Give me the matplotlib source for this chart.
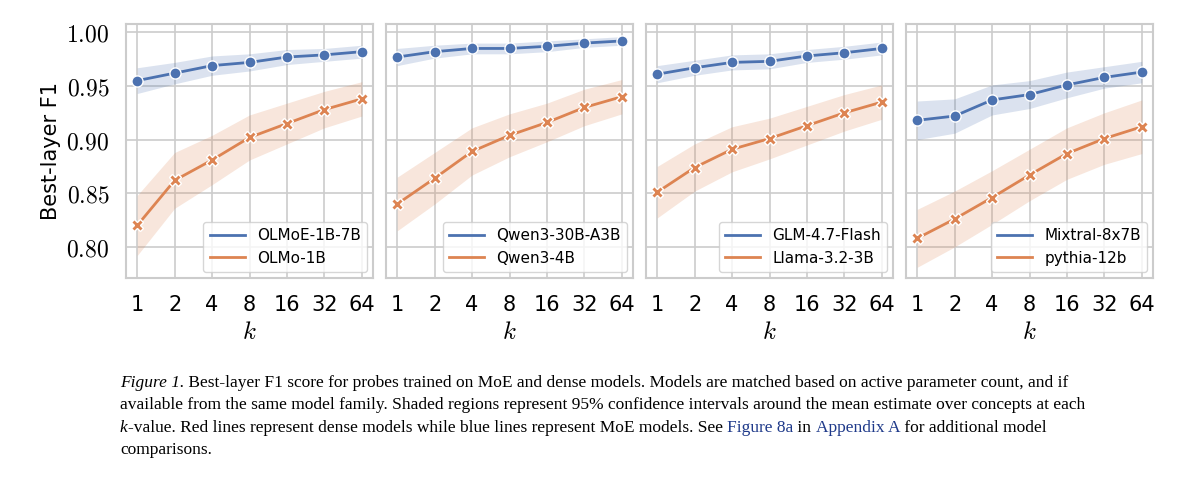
import matplotlib
matplotlib.use("Agg")
import matplotlib.pyplot as plt
from matplotlib.lines import Line2D
import numpy as np

k_labels = ["1", "2", "4", "8", "16", "32", "64"]
moe_names = ["OLMoE-1B-7B", "Qwen3-30B-A3B", "GLM-4.7-Flash", "Mixtral-8x7B"]
dense_names = ["OLMo-1B", "Qwen3-4B", "Llama-3.2-3B", "pythia-12b"]
moe_vals = [
    [0.955, 0.962, 0.969, 0.972, 0.977, 0.979, 0.982],
    [0.977, 0.982, 0.985, 0.985, 0.987, 0.990, 0.992],
    [0.961, 0.967, 0.972, 0.973, 0.978, 0.981, 0.985],
    [0.918, 0.922, 0.937, 0.942, 0.951, 0.958, 0.963],
]
moe_ci = [
    [0.012, 0.010, 0.009, 0.008, 0.007, 0.006, 0.006],
    [0.008, 0.006, 0.005, 0.005, 0.005, 0.004, 0.004],
    [0.008, 0.007, 0.007, 0.007, 0.006, 0.006, 0.006],
    [0.018, 0.016, 0.014, 0.013, 0.012, 0.010, 0.010],
]
dense_vals = [
    [0.820, 0.862, 0.881, 0.902, 0.915, 0.928, 0.938],
    [0.840, 0.864, 0.889, 0.904, 0.916, 0.930, 0.940],
    [0.851, 0.874, 0.891, 0.901, 0.913, 0.925, 0.935],
    [0.808, 0.826, 0.846, 0.867, 0.887, 0.901, 0.912],
]
dense_ci = [
    [0.028, 0.026, 0.023, 0.021, 0.019, 0.017, 0.016],
    [0.025, 0.024, 0.022, 0.020, 0.018, 0.017, 0.016],
    [0.024, 0.022, 0.021, 0.019, 0.018, 0.017, 0.016],
    [0.027, 0.026, 0.025, 0.024, 0.024, 0.024, 0.025],
]

plt.rcParams["mathtext.fontset"] = "cm"
BLUE = "#4C72B0"
ORANGE = "#DD8452"
GRIDC = "#cccccc"

fig = plt.figure(figsize=(12, 4.82), dpi=100)
W, H = 1200, 482
lefts = [126, 386, 646, 906]
pw = 247
x = np.arange(len(k_labels))
for i, l in enumerate(lefts):
    ax = fig.add_axes([l / W, 1 - 278 / H, pw / W, (278 - 24) / H])
    mv, mc = np.array(moe_vals[i]), np.array(moe_ci[i])
    dv, dc = np.array(dense_vals[i]), np.array(dense_ci[i])
    ax.fill_between(x, mv - mc, mv + mc, color=BLUE, alpha=0.2, lw=0)
    ax.fill_between(x, dv - dc, dv + dc, color=ORANGE, alpha=0.2, lw=0)
    ax.plot(x, mv, color=BLUE, lw=2, marker="o", ms=8, mec="white", mew=1, zorder=3)
    ax.plot(x, dv, color=ORANGE, lw=2, marker="X", ms=8, mec="white", mew=1, zorder=3)
    ax.set_ylim(0.771, 1.0078)
    ax.set_xlim(-0.3, 6.3)
    ax.set_xticks(x)
    ax.set_xticklabels(k_labels, fontsize=15)
    yt = [0.80, 0.85, 0.90, 0.95, 1.00]
    ax.set_yticks(yt)
    if i == 0:
        ax.set_yticklabels([r"$%.2f$" % v for v in yt], fontsize=17)
        ax.set_ylabel("Best-layer F1", fontsize=15)
    else:
        ax.set_yticklabels([])
    ax.set_xlabel(r"$k$", fontsize=18)
    ax.tick_params(length=0, pad=12)
    ax.grid(True, color=GRIDC, lw=1.2)
    ax.set_axisbelow(True)
    for s in ax.spines.values():
        s.set_color(GRIDC)
        s.set_linewidth(1.5)
    handles = [Line2D([], [], color=BLUE, lw=2), Line2D([], [], color=ORANGE, lw=2)]
    leg = ax.legend(handles, [moe_names[i], dense_names[i]], loc="lower right",
                    fontsize=11, handlelength=2.3, framealpha=0.8, borderaxespad=0.4)
    leg.get_frame().set_edgecolor(GRIDC)

# caption
serif = "Liberation Serif"
cap_fs = 12.5
lines = [
    [("Figure 1.", "italic", "black"), (" Best-layer F1 score for probes trained on MoE and dense models. Models are matched based on active parameter count, and if", "normal", "black")],
    [("available from the same model family. Shaded regions represent 95% confidence intervals around the mean estimate over concepts at each", "normal", "black")],
    [("k", "italic", "black"), ("-value. Red lines represent dense models while blue lines represent MoE models. See ", "normal", "black"),
     ("Figure 8a", "normal", "#1f3a8a"), (" in ", "normal", "black"), ("Appendix A", "normal", "#1f3a8a"), (" for additional model", "normal", "black")],
    [("comparisons.", "normal", "black")],
]
ys = [383, 405, 428, 450]
fig.canvas.draw()
r = fig.canvas.get_renderer()
for segs, yp in zip(lines, ys):
    xp = 120
    for txt, style, col in segs:
        t = fig.text(xp / W, 1 - yp / H, txt, fontsize=cap_fs, family=serif, style=style, color=col, va="center", ha="left")
        bb = t.get_window_extent(renderer=r)
        xp += bb.width

fig.savefig("out.png", dpi=100)
